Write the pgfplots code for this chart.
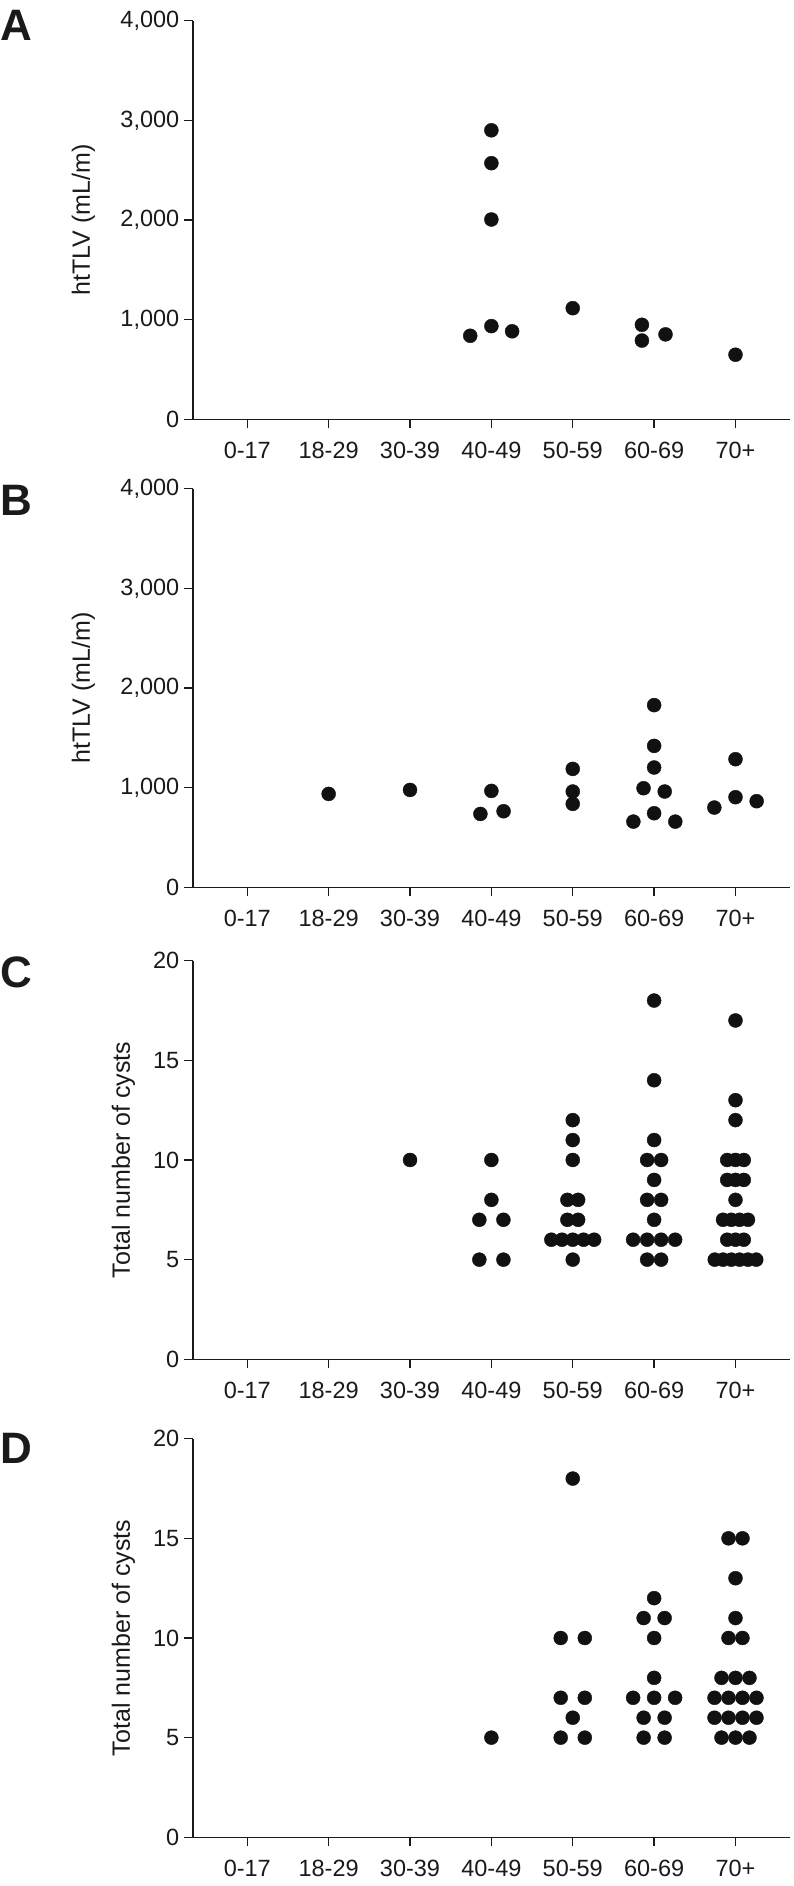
\documentclass[border=0pt]{standalone}
\usepackage{fontspec}
\setmainfont{Liberation Sans}
\newfontfamily\tickfont[Scale=2.35]{Liberation Sans}
\newfontfamily\labfont[Scale=2.5]{Liberation Sans}
\newfontfamily\letfont[Scale=4.4]{Liberation Sans}
\usepackage{pgfplots}
\pgfplotsset{compat=1.18}
\definecolor{dot}{HTML}{111111}
\definecolor{ink}{HTML}{1A1A1A}
\begin{document}
\begin{tikzpicture}
\useasboundingbox (0,0) rectangle (794pt,1886pt);
\pgfplotsset{
  panel/.style={
    scale only axis, width=597pt, height=398.6pt,
    anchor=south west,
    xmin=-0.667, xmax=6.67,
    axis lines*=left,
    axis line style={line width=1.4pt, color=ink},
    tick style={line width=1.4pt, color=ink},
    tick align=outside, major tick length=9pt,
    xtick={0,...,6},
    xticklabels={0-17,18-29,30-39,40-49,50-59,60-69,70+},
    tick label style={font=\tickfont, text=ink, inner sep=0pt},
    xticklabel style={anchor=north, yshift=-13.4pt},
    yticklabel style={anchor=east, xshift=-4.5pt},
    ylabel style={font=\labfont, text=ink, inner sep=0pt, anchor=north},
    ymin=0,
    clip=false,
  },
  tlv/.style={ymax=4000, ytick={0,1000,2000,3000,4000},
    yticklabels={0,{1,000},{2,000},{3,000},{4,000}},
    ylabel={htTLV (mL/m)},
    ylabel style={at={(axis description cs:-0.2035,0.5)}}},
  cys/.style={ymax=20, ytick={0,5,10,15,20},
    yticklabels={0,5,10,15,20},
    ylabel={Total number of cysts},
    ylabel style={at={(axis description cs:-0.1365,0.5)}}},
  dots/.style={only marks, mark=*, mark size=7pt, color=dot, mark options={fill=dot, draw=none}},
}
% Panel A
\begin{axis}[panel, tlv, at={(193pt,1466.7pt)}]
\addplot[dots] coordinates {
(3,2900) (3,2570) (3,2005) (3,935) (2.74,838) (3.255,883)
(4,1115)
(4.85,948) (4.85,790) (5.14,852)
(6,648)
};
\end{axis}
% Panel B
\begin{axis}[panel, tlv, at={(193pt,998.7pt)}]
\addplot[dots] coordinates {
(1,937) (2,977)
(3,967) (2.865,736) (3.15,763)
(4,1188) (4,961) (4,837)
(5,1828) (5,1419) (5,1202) (4.87,994) (5.13,961) (5,743) (4.745,659) (5.26,659)
(6,1285) (6,904) (5.74,800) (6.26,864)
};
\end{axis}
% Panel C
\begin{axis}[panel, cys, at={(193pt,526.7pt)}]
\addplot[dots] coordinates {
(2,10)
(3,10) (3,8) (2.852,7) (3.148,7) (2.852,5) (3.148,5)
(4,12) (4,11) (4,10) (3.934,8) (4.066,8) (3.934,7) (4.066,7)
(3.737,6) (3.868,6) (4,6) (4.132,6) (4.263,6) (4,5)
(5,18) (5,14) (5,11) (4.914,10) (5.086,10) (5,9) (4.914,8) (5.086,8) (5,7)
(4.742,6) (4.914,6) (5.086,6) (5.258,6) (4.914,5) (5.086,5)
(6,17) (6,13) (6,12)
(5.898,10) (6,10) (6.102,10)
(5.898,9) (6,9) (6.102,9)
(6,8)
(5.847,7) (5.949,7) (6.051,7) (6.153,7)
(5.898,6) (6,6) (6.102,6)
(5.745,5) (5.847,5) (5.949,5) (6.051,5) (6.153,5) (6.255,5)
};
\end{axis}
% Panel D
\begin{axis}[panel, cys, at={(193pt,48.7pt)}]
\addplot[dots] coordinates {
(3,5)
(4,18) (3.852,10) (4.148,10) (3.852,7) (4.148,7) (4,6) (3.852,5) (4.148,5)
(5,12) (4.871,11) (5.129,11) (5,10) (5,8) (4.742,7) (5,7) (5.258,7)
(4.871,6) (5.129,6) (4.871,5) (5.129,5)
(5.914,15) (6.086,15) (6,13) (6,11) (5.914,10) (6.086,10)
(5.828,8) (6,8) (6.172,8)
(5.742,7) (5.914,7) (6.086,7) (6.258,7)
(5.742,6) (5.914,6) (6.086,6) (6.258,6)
(5.828,5) (6,5) (6.172,5)
};
\end{axis}
\begin{scope}[every node/.style={anchor=north west, inner sep=0pt, font=\letfont\bfseries, text=ink}]
\node at (0pt,1876pt) {A};
\node at (0pt,1401pt) {B};
\node at (0pt,929pt) {C};
\node at (0pt,453pt) {D};
\end{scope}
\end{tikzpicture}
\end{document}
